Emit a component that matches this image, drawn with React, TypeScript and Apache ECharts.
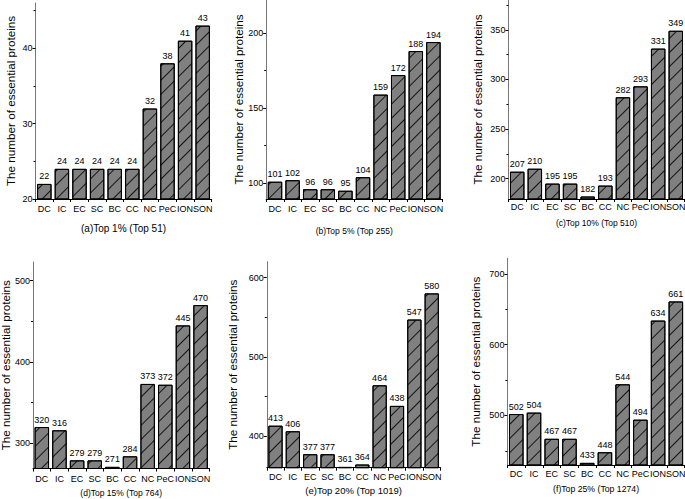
import React, { useEffect, useRef } from "react";
import * as echarts from "echarts";

const categories = ["DC", "IC", "EC", "SC", "BC", "CC", "NC", "PeC", "ION", "SON"];

const top1 = [22, 24, 24, 24, 24, 24, 32, 38, 41, 43];
const top5 = [101, 102, 96, 96, 95, 104, 159, 172, 188, 194];
const top10 = [207, 210, 195, 195, 182, 193, 282, 293, 331, 349];
const top15 = [320, 316, 279, 279, 271, 284, 373, 372, 445, 470];
const top20 = [413, 406, 377, 377, 361, 364, 464, 438, 547, 580];
const top25 = [502, 504, 467, 467, 433, 448, 544, 494, 634, 661];

const titles = [
  "(a)Top 1% (Top 51)",
  "(b)Top 5% (Top 255)",
  "(c)Top 10% (Top 510)",
  "(d)Top 15% (Top 764)",
  "(e)Top 20% (Top 1019)",
  "(f)Top 25% (Top 1274)",
];

const majorTicks = [
  [20, 30, 40],
  [100, 150, 200],
  [200, 250, 300, 350],
  [300, 400, 500],
  [400, 500, 600],
  [500, 600, 700],
];
const minorTicks = [
  [25, 35, 45],
  [125, 175],
  [225, 275, 325, 375],
  [350, 450],
  [450, 550],
  [450, 550, 650],
];
const axisMin = [20, 89.5, 179.5, 269, 360, 430];
const axisMax = [46, 222, 380, 523, 620, 722];

const yAxisName = "The number of essential proteins";

// layout per panel
const layout = [
  { left: 35.5, top: 3, width: 176, height: 196, nameGap: 19, titleGap: 24, titleSize: 10, labelMargin: 5 },
  { left: 266.2, top: 0, width: 176, height: 199, nameGap: 19, titleGap: 27, titleSize: 8.5, labelMargin: 5 },
  { left: 508.4, top: 0, width: 176.2, height: 199, nameGap: 25, titleGap: 19, titleSize: 8.5, labelMargin: 3 },
  { left: 33, top: 262, width: 176.4, height: 206.5, nameGap: 21, titleGap: 20, titleSize: 8.5, labelMargin: 6 },
  { left: 266.8, top: 261.7, width: 173.6, height: 206, nameGap: 28, titleGap: 18, titleSize: 9.5, labelMargin: 5 },
  { left: 507.4, top: 258.3, width: 177.3, height: 206.7, nameGap: 26, titleGap: 19, titleSize: 8.7, labelMargin: 4 },
];

const allData = [top1, top5, top10, top15, top20, top25];

export default function App() {
  const ref = useRef<HTMLDivElement>(null);
  useEffect(() => {
    if (!ref.current) return;
    const chart = echarts.init(ref.current, undefined, { renderer: "svg" });
    const font = "'Liberation Sans', Arial, sans-serif";
    const grids: any[] = [];
    const xAxes: any[] = [];
    const yAxes: any[] = [];
    const series: any[] = [];
    layout.forEach((l, i) => {
      grids.push({
        left: l.left,
        top: l.top,
        width: l.width,
        height: l.height,
        containLabel: false,
        outerBoundsMode: "none",
      });
      xAxes.push({
        type: "category",
        gridIndex: i,
        data: categories,
        name: titles[i],
        nameLocation: "middle",
        nameGap: l.titleGap,
        nameTextStyle: { fontSize: l.titleSize, color: "#000", fontFamily: font },
        axisLine: { show: true, lineStyle: { color: "#000", width: 1 } },
        axisTick: { show: true, length: 3, alignWithLabel: false, lineStyle: { color: "#000" } },
        axisLabel: { interval: 0, fontSize: 9, color: "#000", margin: l.labelMargin, fontFamily: font },
        splitLine: { show: false },
      });
      yAxes.push({
        type: "value",
        gridIndex: i,
        position: "left",
        min: axisMin[i],
        max: axisMax[i],
        name: yAxisName,
        nameLocation: "middle",
        nameGap: l.nameGap,
        nameTextStyle: { fontSize: 11.7, color: "#000", fontFamily: font },
        axisLine: { show: true, lineStyle: { color: "#777", width: 1 } },
        axisTick: { show: true, length: 3, customValues: majorTicks[i], lineStyle: { color: "#000" } },
        axisLabel: { fontSize: 9, color: "#000", margin: 3, customValues: majorTicks[i], fontFamily: font },
        splitLine: { show: false },
      });
      yAxes.push({
        type: "value",
        gridIndex: i,
        position: "left",
        offset: 0,
        min: axisMin[i],
        max: axisMax[i],
        axisLine: { show: false },
        axisTick: { show: true, length: 2, customValues: minorTicks[i], lineStyle: { color: "#000" } },
        axisLabel: { show: false },
        splitLine: { show: false },
      });
      series.push({
        type: "bar",
        xAxisIndex: i,
        yAxisIndex: i * 2,
        data: allData[i],
        barWidth: "82%",
        itemStyle: {
          color: "#808080",
          borderColor: "#000",
          borderWidth: 1,
          decal: {
            symbol: "rect",
            symbolSize: 1,
            color: "rgba(0,0,0,0.85)",
            dashArrayX: [1, 0],
            dashArrayY: [1, 8.4],
            rotation: -Math.PI / 4,
          },
        },
        label: {
          show: true,
          position: "top",
          distance: 3,
          fontSize: 9,
          color: "#000",
          fontFamily: font,
        },
      });
    });
    chart.setOption({
      animation: false,
      backgroundColor: "#fff",
      textStyle: { fontFamily: font },
      grid: grids,
      xAxis: xAxes,
      yAxis: yAxes,
      series,
    });
    return () => chart.dispose();
  }, []);
  return (
    <div
      ref={ref}
      style={{ position: "fixed", left: 0, top: 0, width: 685, height: 499 }}
    />
  );
}
